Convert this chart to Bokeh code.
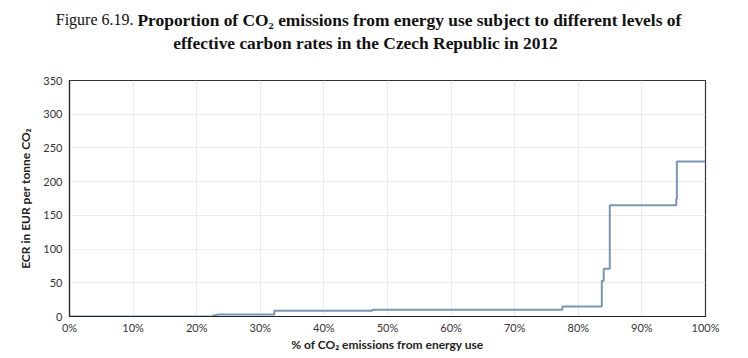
from bokeh.plotting import figure
from bokeh.models import FixedTicker
from bokeh.layouts import column
from bokeh.core.properties import value
from bokeh.embed import file_html
from bokeh.resources import INLINE

# Data (step chart)
emission_share = [0, 22.6, 23.2, 32.2, 47.6, 77.5, 83.7, 84.0, 84.95, 95.4, 95.5, 100]
ecr_values = [0, 2, 3, 8.5, 10, 15, 53, 71, 165, 175, 230, 230]
x_ticks = [0, 10, 20, 30, 40, 50, 60, 70, 80, 90, 100]
x_tick_labels = ["0%", "10%", "20%", "30%", "40%", "50%", "60%", "70%", "80%", "90%", "100%"]
y_ticks = [0, 50, 100, 150, 200, 250, 300, 350]

title_prefix = "Figure 6.19."
title_line1 = "Proportion of CO\u2082 emissions from energy use subject to different levels of"
title_line2 = "effective carbon rates in the Czech Republic in 2012"

W = 740
TH = 62
MH = 296
FL, FR = 69, 705  # frame left/right in page pixels

# --- title strip (page-pixel-like coordinates) ---
t = figure(width=W, height=TH, output_backend="svg", toolbar_location=None,
           x_range=(0, W), y_range=(0, TH), x_axis_type=None, y_axis_type=None,
           min_border_left=0, min_border_right=0, min_border_top=0, min_border_bottom=0)
t.frame_align = False
t.outline_line_color = None
t.xgrid.visible = False
t.ygrid.visible = False
t.text(x=[133], y=[TH - 19], text=[title_prefix], text_align="right", text_baseline="middle",
       text_font=value("Liberation Serif"), text_font_size="16px", text_color="#111111")
t.text(x=[137], y=[TH - 19], text=[title_line1], text_align="left", text_baseline="middle",
       text_font=value("Liberation Serif"), text_font_size="17.4px", text_font_style="bold",
       text_color="#111111")
t.text(x=[365], y=[TH - 42], text=[title_line2], text_align="center", text_baseline="middle",
       text_font=value("Liberation Serif"), text_font_size="17.4px", text_font_style="bold",
       text_color="#111111")

# --- main chart ---
p = figure(width=W, height=MH, output_backend="svg", toolbar_location=None,
           x_range=(0, 100), y_range=(0, 350),
           min_border_left=FL, min_border_right=W - FR, min_border_top=80 - TH,
           min_border_bottom=MH - (316 - TH))
p.frame_align = False

p.step(emission_share, ecr_values, mode="after", line_color="#7896b5", line_width=2)

p.outline_line_color = "#333333"
p.outline_line_width = 1.2

for ax in (p.xaxis, p.yaxis):
    ax.axis_line_color = "#222222"
    ax.axis_line_width = 1.2
    ax.major_tick_line_color = None
    ax.minor_tick_line_color = None
    ax.major_tick_out = 0
    ax.major_tick_in = 0
    ax.minor_tick_out = 0
    ax.major_label_text_font = "Lato"
    ax.major_label_text_font_size = "11px"
    ax.major_label_text_color = "#333333"
    ax.axis_label_text_font = "Lato"
    ax.axis_label_text_font_size = "12px"
    ax.axis_label_text_font_style = "bold"
    ax.axis_label_text_color = "#222222"

p.xaxis.ticker = FixedTicker(ticks=x_ticks)
p.xaxis.major_label_overrides = {t_: l for t_, l in zip(x_ticks, x_tick_labels)}
p.xaxis.axis_label = "% of CO\u2082 emissions from energy use"
p.xaxis.major_label_standoff = 4
p.xaxis.axis_label_standoff = 0
p.yaxis.ticker = FixedTicker(ticks=y_ticks)
p.yaxis.axis_label = "ECR in EUR per tonne CO\u2082"
p.yaxis.major_label_standoff = 7
p.yaxis.axis_label_standoff = 7

p.xgrid.grid_line_color = "#ebebeb"
p.ygrid.grid_line_color = "#ebebeb"
p.xgrid.ticker = FixedTicker(ticks=x_ticks)
p.ygrid.ticker = FixedTicker(ticks=y_ticks)

layout = column(t, p, spacing=0)
open("out.html", "w").write(file_html(layout, INLINE))
